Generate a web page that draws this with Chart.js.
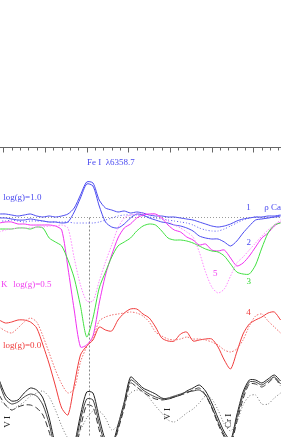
<!DOCTYPE html>
<html>
<head>
<meta charset="utf-8">
<script src="https://cdn.jsdelivr.net/npm/chart.js@4"></script>
<style>
  html, body { margin: 0; padding: 0; background: #fff; }
  #wrap { width: 281px; height: 437px; overflow: hidden; }
</style>
</head>
<body>
<div id="wrap"><canvas id="spec"></canvas></div>
<script>
// velocity grid (km/s) shared by every profile
const vel = [-42,-39,-36,-33,-30,-27,-24,-21,-18,-15,-12,-9,-6,-3,0,3,6,9,12,15,18,21,24,27,30,33,36,39,42,45,48,51,54,57,60,63,66,69,72,75,78,81,84,87,90,93];

// log(g)=1.0 (blue)
const blue1 = [1.015,1.015,1.01,1.005,1.01,1.015,1.005,1.0,1.005,1.0,1.005,1.015,1.045,1.11,1.175,1.17,1.085,1.045,1.035,1.025,1.03,1.02,1.025,1.02,1.01,1.005,1.005,1.0,1.0,0.995,0.99,0.985,0.975,0.965,0.955,0.95,0.955,0.965,0.98,0.99,0.995,1.0,1.0,1.005,1.005,1.01];
const blue2 = [0.995,0.995,0.99,0.985,0.985,0.99,0.985,0.98,0.975,0.975,0.97,0.975,1.025,1.095,1.165,1.155,1.055,0.975,0.95,0.945,0.965,0.995,1.015,1.01,0.995,0.985,0.975,0.97,0.96,0.955,0.945,0.93,0.905,0.895,0.89,0.89,0.875,0.855,0.88,0.92,0.955,0.985,0.99,0.995,1.0,1.005];
const blueModel = [0.98,0.98,0.985,0.98,0.975,0.98,0.98,0.98,0.975,0.975,0.975,0.975,0.97,0.97,0.97,0.97,0.975,0.985,0.995,1.005,1.01,1.01,1.01,1.005,1.0,0.995,0.99,0.985,0.98,0.975,0.97,0.96,0.945,0.935,0.93,0.93,0.94,0.955,0.97,0.985,0.995,1.0,0.995,0.995,1.0,1.0];

// log(g)=0.5 (green / magenta)
const green3 = [0.94,0.94,0.94,0.945,0.945,0.94,0.95,0.945,0.895,0.875,0.855,0.785,0.695,0.555,0.4,0.495,0.645,0.725,0.8,0.855,0.875,0.895,0.93,0.955,0.965,0.96,0.93,0.895,0.885,0.885,0.88,0.87,0.855,0.84,0.83,0.825,0.805,0.765,0.725,0.715,0.715,0.76,0.845,0.92,0.96,0.97];
const magenta = [0.97,0.975,0.975,0.965,0.965,0.96,0.96,0.96,0.96,0.955,0.935,0.745,0.535,0.35,0.36,0.405,0.57,0.71,0.81,0.895,0.945,0.965,0.995,1.01,1.015,1.015,0.995,0.96,0.935,0.925,0.9,0.885,0.86,0.865,0.835,0.83,0.835,0.795,0.755,0.77,0.805,0.85,0.895,0.92,0.955,0.975];
const magenta5 = [0.925,0.935,0.94,0.945,0.945,0.945,0.95,0.95,0.955,0.955,0.96,0.945,0.795,0.66,0.58,0.58,0.68,0.775,0.86,0.945,0.995,1.01,1.015,1.02,1.015,1.01,0.995,0.98,0.96,0.945,0.925,0.9,0.825,0.725,0.65,0.62,0.64,0.705,0.77,0.8,0.835,0.87,0.905,0.935,0.96,0.985];

// log(g)=0.0 (red)
const red4 = [0.485,0.47,0.475,0.485,0.485,0.475,0.445,0.36,0.265,0.155,0.045,0.01,0.16,0.31,0.355,0.385,0.45,0.435,0.43,0.485,0.52,0.54,0.54,0.515,0.495,0.45,0.395,0.38,0.38,0.415,0.425,0.38,0.385,0.39,0.39,0.35,0.285,0.24,0.325,0.415,0.465,0.485,0.5,0.52,0.525,0.485];
const redModel = [0.45,0.43,0.42,0.445,0.475,0.495,0.475,0.405,0.32,0.235,0.165,0.12,0.14,0.275,0.35,0.395,0.48,0.5,0.51,0.515,0.52,0.525,0.52,0.505,0.475,0.425,0.405,0.39,0.385,0.39,0.4,0.39,0.39,0.385,0.375,0.36,0.335,0.325,0.34,0.385,0.455,0.505,0.515,0.48,0.45,0.42];

// bottom group (black)
const black1 = [0.185,0.11,0.08,0.085,0.12,0.145,0.135,0.095,-0.005,-0.14,-0.215,-0.215,-0.14,0.01,0.125,0.12,-0.005,-0.115,-0.14,-0.04,0.075,0.2,0.175,0.145,0.13,0.115,0.095,0.09,0.1,0.11,0.13,0.145,0.16,0.13,0.07,-0.005,-0.075,-0.115,0.01,0.125,0.185,0.185,0.17,0.19,0.21,0.18];
const black2 = [0.17,0.09,0.065,0.075,0.1,0.115,0.105,0.06,-0.035,-0.165,-0.225,-0.225,-0.165,-0.015,0.09,0.085,-0.035,-0.135,-0.15,-0.055,0.06,0.185,0.165,0.135,0.115,0.1,0.09,0.095,0.105,0.115,0.125,0.13,0.135,0.11,0.05,-0.025,-0.09,-0.125,-0.005,0.11,0.175,0.175,0.16,0.18,0.2,0.165];
const black3 = [0.11,0.06,0.035,0.05,0.06,0.06,0.045,0.01,-0.075,-0.19,-0.24,-0.24,-0.19,-0.055,0.06,0.05,-0.065,-0.155,-0.165,-0.065,0.045,0.17,0.15,0.125,0.105,0.09,0.085,0.09,0.1,0.11,0.12,0.135,0.145,0.11,0.045,-0.035,-0.1,-0.135,-0.025,0.09,0.165,0.165,0.15,0.17,0.195,0.155];
const blackModel = [0.085,0.06,0.035,0.055,0.075,0.105,0.12,0.13,0.1,0.035,-0.045,-0.105,-0.115,-0.065,-0.005,0.03,0.03,-0.005,-0.065,-0.04,0.07,0.12,0.135,0.125,0.095,0.055,0.02,-0.015,-0.025,-0.005,0.02,0.04,0.07,0.105,0.09,0.035,-0.035,-0.07,-0.025,0.06,0.105,0.11,0.065,0.065,0.095,0.12];

const continuum = 1.0;
const lineVel = 1.2;
const majorTicks = [-40,-20,0,20,40,60,80];
const minorStep = 4;

// text annotations [text, vel, flux, colour, rotated]
const notes = [
  ['Fe I  \u03bb6358.7', 0.1, 1.27, '#4a4af0', false],
  ['log(g)=1.0', -40.1, 1.095, '#4a4af0', false],
  ['1', 76.5, 1.045, '#4a4af0', false],
  ['\u03c1 Cas', 85.2, 1.045, '#4a4af0', false],
  ['2', 76.6, 0.8725, '#4a4af0', false],
  ['5', 60.6, 0.7175, '#f040f0', false],
  ['3', 76.6, 0.6775, '#30d830', false],
  ['K', -41.1, 0.66, '#f040f0', false],
  ['log(g)=0.5', -35.3, 0.66, '#f040f0', false],
  ['4', 76.5, 0.52, '#f03c3c', false],
  ['log(g)=0.0', -40.2, 0.3575, '#f03c3c', false],
  ['V I', -38, -0.025, '#222', true],
  ['V I', 39, 0.015, '#222', true],
  ['Cr I', 68, -0.02, '#222', true]
];

function pts(arr) {
  return vel.map((v, i) => ({ x: v, y: arr[i] }));
}

function line(arr, color, dash) {
  return {
    data: pts(arr),
    borderColor: color,
    borderWidth: 1,
    borderDash: dash || [],
    pointRadius: 0,
    tension: 0.25,
    fill: false
  };
}

const frame = {
  id: 'frame',
  beforeDatasetsDraw(chart) {
    const { ctx, chartArea, scales: { x, y } } = chart;
    ctx.save();
    ctx.strokeStyle = '#999';
    ctx.lineWidth = 1;
    ctx.setLineDash([1, 2]);
    const yc = Math.round(y.getPixelForValue(continuum)) + 0.5;
    ctx.beginPath();
    ctx.moveTo(chartArea.left, yc);
    ctx.lineTo(chartArea.right, yc);
    ctx.stroke();
    ctx.strokeStyle = '#888';
    ctx.setLineDash([2, 2]);
    const xl = Math.round(x.getPixelForValue(lineVel)) + 0.5;
    ctx.beginPath();
    ctx.moveTo(xl, yc);
    ctx.lineTo(xl, chartArea.bottom);
    ctx.stroke();
    ctx.restore();
  },
  afterDatasetsDraw(chart) {
    const { ctx, chartArea, scales: { x, y } } = chart;
    ctx.save();
    ctx.strokeStyle = '#666';
    ctx.lineWidth = 1;
    const top = chartArea.top + 0.5;
    ctx.beginPath();
    ctx.moveTo(chartArea.left, top);
    ctx.lineTo(chartArea.right, top);
    for (let v = majorTicks[0] - 20; v <= x.max; v += minorStep) {
      const px = Math.round(x.getPixelForValue(v)) + 0.5;
      const len = majorTicks.includes(v) ? 5 : 3;
      ctx.moveTo(px, top);
      ctx.lineTo(px, top + len);
    }
    ctx.stroke();

    ctx.font = '9px "Liberation Serif", serif';
    ctx.textBaseline = 'middle';
    notes.forEach(([t, v, f, c, rot]) => {
      const px = x.getPixelForValue(v);
      const py = y.getPixelForValue(f);
      ctx.fillStyle = c;
      if (rot) {
        ctx.save();
        ctx.translate(px, py);
        ctx.rotate(-Math.PI / 2);
        ctx.textAlign = 'center';
        ctx.fillText(t, 0, 0);
        ctx.restore();
      } else {
        ctx.textAlign = 'left';
        ctx.fillText(t, px, py);
      }
    });
    ctx.restore();
  }
};

new Chart(document.getElementById('spec'), {
  type: 'line',
  data: {
    datasets: [
      line(blackModel, '#777', [1, 2]),
      line(black3, '#333', [6, 3]),
      line(black2, '#444'),
      line(black1, '#222'),
      line(redModel, '#f07070', [1.5, 1.5]),
      line(red4, '#f03c3c'),
      line(magenta5, '#ff88ff', [1.5, 1.5]),
      line(green3, '#40e040'),
      line(magenta, '#f030f0'),
      line(blueModel, '#5a5af5', [1, 2]),
      line(blue2, '#4a4af0'),
      line(blue1, '#4a4af0')
    ]
  },
  options: {
    responsive: true,
    maintainAspectRatio: false,
    animation: false,
    layout: { padding: { top: 147, left: 0, right: 0, bottom: 0 } },
    plugins: {
      legend: { display: false },
      tooltip: { enabled: false }
    },
    scales: {
      x: { type: 'linear', min: -41.6, max: 93.2, display: false },
      y: { min: -0.1, max: 1.35, display: false }
    }
  },
  plugins: [frame]
});
</script>
</body>
</html>
